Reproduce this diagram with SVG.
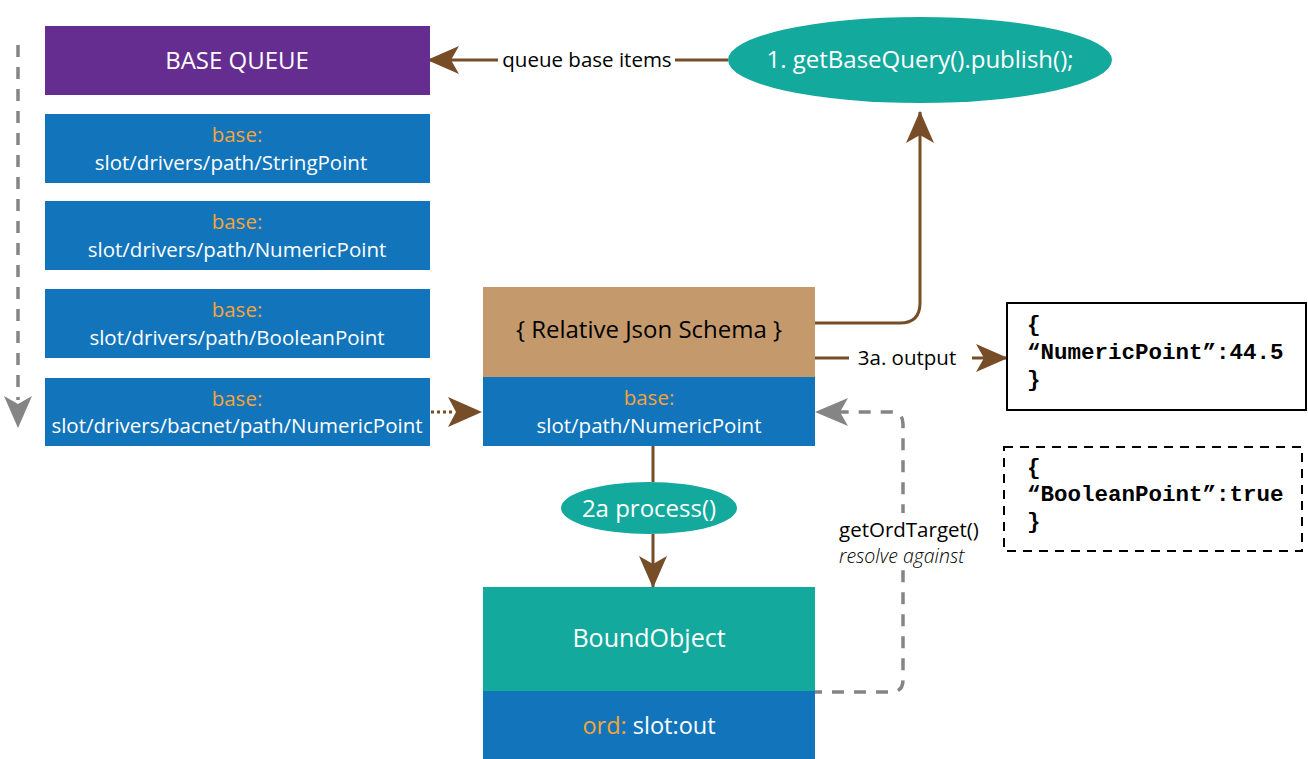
<svg xmlns="http://www.w3.org/2000/svg" width="1308" height="759" viewBox="0 0 1308 759">
<defs>
<style>
.t{font-family:"Open Sans","Liberation Sans",sans-serif;fill:#fff;text-anchor:middle}
.o{fill:#f6a43a}
.k{font-family:"Open Sans","Liberation Sans",sans-serif;fill:#000}
.m{font-family:"Liberation Mono","DejaVu Sans Mono",monospace;font-weight:bold;font-size:22.5px;fill:#000}
.br{stroke:#774d28;stroke-width:3;fill:none}
.gr{stroke:#858585;stroke-width:3.5;fill:none;stroke-dasharray:12 10}
.blue{fill:#1275bc}
</style>
<marker id="ab" viewBox="0 0 32 28" refX="31" refY="14" markerWidth="32" markerHeight="28" markerUnits="userSpaceOnUse" orient="auto">
<path d="M0,0 L32,14 L0,28 L8,14 Z" fill="#774d28"/>
</marker>
<marker id="ag" viewBox="0 0 32 28" refX="31" refY="14" markerWidth="32" markerHeight="28" markerUnits="userSpaceOnUse" orient="auto">
<path d="M0,0 L32,14 L0,28 L8,14 Z" fill="#858585"/>
</marker>
</defs>
<rect width="1308" height="759" fill="#fff"/>

<g id="connectors">
<path class="gr" d="M18,45 V400" stroke-width="4" stroke-dasharray="9 12"/>
<path d="M4,396 L18,428 L32,396 L18,404 Z" fill="#858585"/>
<path class="br" d="M728,60 H428" marker-end="url(#ab)"/>
<path class="br" d="M815,323 H900 Q920,323 920,303 V112" marker-end="url(#ab)"/>
<path class="br" d="M815,358 H849"/>
<path class="br" d="M972,358 H1007" marker-end="url(#ab)"/>
<path d="M431,412 H452" stroke="#774d28" stroke-width="3" stroke-dasharray="3 3" fill="none"/>
<path d="M448,397 L482,412 L448,427 L456,412 Z" fill="#774d28"/>
<path class="br" d="M653,446 V482"/>
<path class="br" d="M653,534 V587" marker-end="url(#ab)"/>
<path class="gr" d="M810,692 H891 Q903,692 903,680 V424 Q903,412 891,412 H840"/>
<path d="M848,398 L815,412 L848,426 L840,412 Z" fill="#858585"/>
</g>

<g id="base-queue">
<rect x="45" y="26" width="385" height="69" fill="#652d90"/>
<text class="t" x="237" y="69" font-size="24">BASE QUEUE</text>
</g>
<g id="base-string">
<rect x="45" y="114" width="385" height="69" class="blue"/>
<text class="t o" x="237" y="142" font-size="20.5">base:</text>
<text class="t" x="231" y="170" font-size="20.5">slot/drivers/path/StringPoint</text>
</g>
<g id="base-numeric">
<rect x="45" y="201" width="385" height="69" class="blue"/>
<text class="t o" x="237" y="229" font-size="20.5">base:</text>
<text class="t" x="237" y="257" font-size="20.5">slot/drivers/path/NumericPoint</text>
</g>
<g id="base-boolean">
<rect x="45" y="289" width="385" height="69" class="blue"/>
<text class="t o" x="237" y="317" font-size="20.5">base:</text>
<text class="t" x="237" y="345" font-size="20.5">slot/drivers/path/BooleanPoint</text>
</g>
<g id="base-bacnet">
<rect x="45" y="378" width="385" height="68" class="blue"/>
<text class="t o" x="237" y="406" font-size="20.5">base:</text>
<text class="t" x="237" y="433" font-size="20.5">slot/drivers/bacnet/path/NumericPoint</text>
</g>

<g id="publish">
<ellipse cx="920" cy="60" rx="192" ry="43" fill="#14a99d"/>
<text class="t" x="920" y="68" font-size="24">1. getBaseQuery().publish();</text>
</g>
<g id="queue-label">
<rect x="498" y="46" width="177" height="28" fill="#fff"/>
<text class="k" x="587" y="67" font-size="20.5" text-anchor="middle">queue base items</text>
</g>

<g id="schema">
<rect x="483" y="287" width="332" height="90" fill="#c49a6c"/>
<text class="k" x="649" y="338" font-size="24" text-anchor="middle">{ Relative Json Schema }</text>
<rect x="483" y="377" width="332" height="69" class="blue"/>
<text class="t o" x="649" y="405" font-size="20.5">base:</text>
<text class="t" x="649" y="433" font-size="20.5">slot/path/NumericPoint</text>
</g>

<g id="output-label">
<text class="k" x="907" y="365" font-size="20.5" text-anchor="middle">3a. output</text>
</g>

<g id="output-numeric">
<rect x="1007" y="303" width="299" height="107" fill="#fff" stroke="#000" stroke-width="2"/>
<text class="m" x="1027" y="331">{</text>
<text class="m" x="1027" y="359">“NumericPoint”:44.5</text>
<text class="m" x="1027" y="386">}</text>
</g>
<g id="output-boolean">
<rect x="1004" y="447" width="298" height="104" fill="#fff" stroke="#000" stroke-width="2" stroke-dasharray="9 7"/>
<text class="m" x="1027" y="474">{</text>
<text class="m" x="1027" y="501">“BooleanPoint”:true</text>
<text class="m" x="1027" y="528">}</text>
</g>

<g id="process">
<ellipse cx="649" cy="508" rx="88" ry="26" fill="#14a99d"/>
<text class="t" x="649" y="517" font-size="24">2a process()</text>
</g>

<g id="ord-label">
<rect x="836" y="513" width="150" height="54" fill="#fff"/>
<text class="k" x="839" y="537" font-size="20.5">getOrdTarget()</text>
<text class="k" x="839" y="563" font-size="19.5" font-style="italic" fill="#444" font-weight="300">resolve against</text>
</g>

<g id="bound">
<rect x="483" y="587" width="332" height="104" fill="#14a99d"/>
<text class="t" x="649" y="647" font-size="25">BoundObject</text>
<rect x="483" y="691" width="332" height="68" class="blue"/>
<text class="t" x="649" y="734" font-size="23.5"><tspan class="o">ord:</tspan> slot:out</text>
</g>
</svg>
